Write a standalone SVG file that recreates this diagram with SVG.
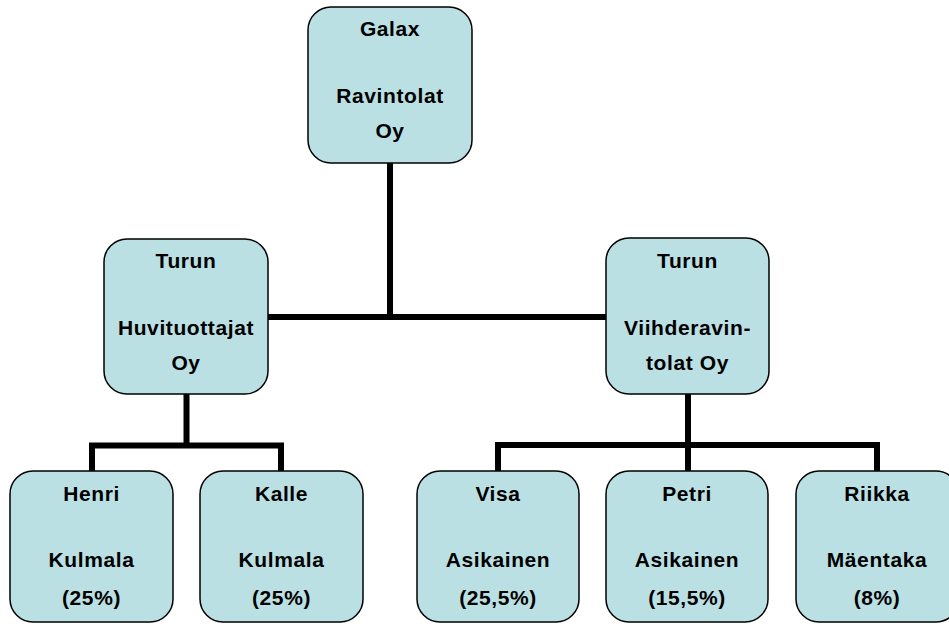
<svg xmlns="http://www.w3.org/2000/svg" width="949" height="624" viewBox="0 0 949 624">
<style>
.box{fill:#BBE0E3;stroke:#000;stroke-width:1.5}
.t{font-family:"Liberation Sans",Arial,sans-serif;font-weight:bold;font-size:21px;letter-spacing:0.6px;text-anchor:middle;fill:#000}
.c{fill:none;stroke:#000;stroke-width:6;stroke-linecap:butt;stroke-linejoin:miter}
</style>
<rect width="949" height="624" fill="#fff"/>
<g id="connectors">
<path class="c" d="M390 163 V317 M268 317 H606"/>
<path class="c" d="M186.5 394 V445.5 M92 471 V445.5 H281 V471"/>
<path class="c" d="M688 394 V445 M498 471 V445 H877 V471 M688 445 V471"/>
</g>
<g id="galax">
<rect class="box" x="308" y="7" width="164" height="156" rx="23"/>
<text class="t" x="390" y="36">Galax</text>
<text class="t" x="390" y="103">Ravintolat</text>
<text class="t" x="390" y="138">Oy</text>
</g>
<g id="huvituottajat">
<rect class="box" x="104" y="239" width="164" height="155" rx="23"/>
<text class="t" x="186" y="268">Turun</text>
<text class="t" x="186" y="335">Huvituottajat</text>
<text class="t" x="186" y="370">Oy</text>
</g>
<g id="viihderavintolat">
<rect class="box" x="606" y="238" width="163" height="156" rx="23"/>
<text class="t" x="687.5" y="268">Turun</text>
<text class="t" x="687.5" y="335">Viihderavin-</text>
<text class="t" x="687.5" y="370">tolat Oy</text>
</g>
<g id="henri">
<rect class="box" x="10" y="471" width="163" height="151" rx="23"/>
<text class="t" x="91.5" y="501">Henri</text>
<text class="t" x="91.5" y="567">Kulmala</text>
<text class="t" x="91.5" y="605">(25%)</text>
</g>
<g id="kalle">
<rect class="box" x="200" y="471" width="163" height="151" rx="23"/>
<text class="t" x="281.5" y="501">Kalle</text>
<text class="t" x="281.5" y="567">Kulmala</text>
<text class="t" x="281.5" y="605">(25%)</text>
</g>
<g id="visa">
<rect class="box" x="417" y="471" width="162" height="151" rx="23"/>
<text class="t" x="498" y="501">Visa</text>
<text class="t" x="498" y="567">Asikainen</text>
<text class="t" x="498" y="605">(25,5%)</text>
</g>
<g id="petri">
<rect class="box" x="606" y="471" width="162" height="151" rx="23"/>
<text class="t" x="687" y="501">Petri</text>
<text class="t" x="687" y="567">Asikainen</text>
<text class="t" x="687" y="605">(15,5%)</text>
</g>
<g id="riikka">
<rect class="box" x="796" y="471" width="163" height="151" rx="23"/>
<text class="t" x="877" y="501">Riikka</text>
<text class="t" x="877" y="567">Mäentaka</text>
<text class="t" x="877" y="605">(8%)</text>
</g>
</svg>
